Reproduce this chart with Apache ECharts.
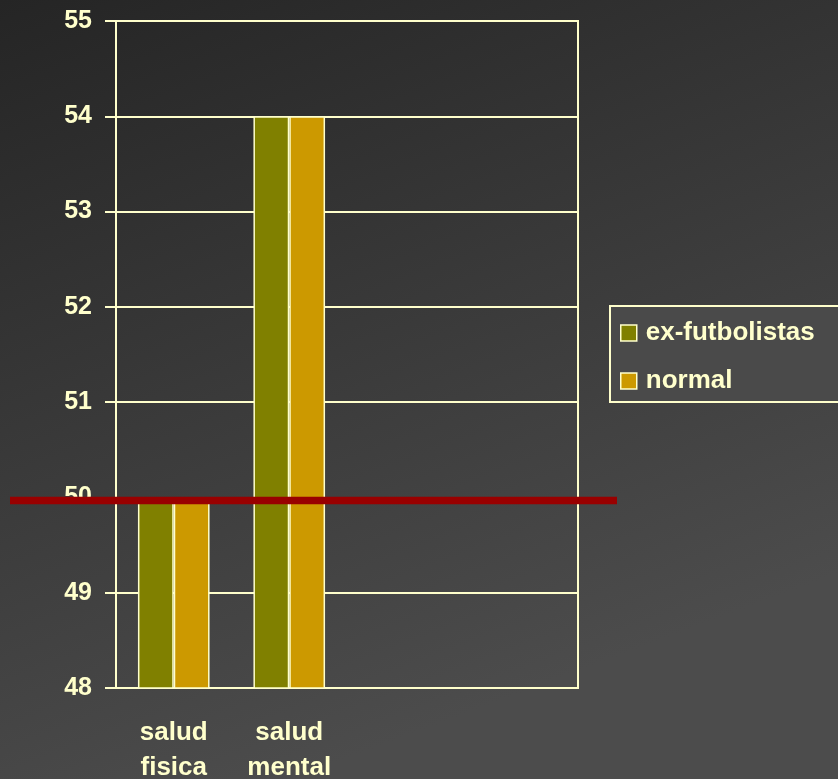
<!DOCTYPE html>
<html>
<head>
<meta charset="utf-8">
<script src="https://cdn.jsdelivr.net/npm/echarts@6/dist/echarts.min.js"></script>
<style>
  html, body { margin: 0; padding: 0; }
  #chart { width: 838px; height: 779px; }
</style>
</head>
<body>
<div id="chart"></div>
<script>
// Health scores: former footballers vs. general population
const categories = ['salud\nfisica', 'salud\nmental', '', ''];
const exFutbolistas = [50, 54, null, null];
const normal = [50, 54, null, null];
const referenceValue = 50;
const yTicks = { min: 48, max: 55, interval: 1 };

const cream = '#ffffcc';
const font = '"Liberation Sans", Arial, sans-serif';

const chart = echarts.init(document.getElementById('chart'), null, { renderer: 'canvas' });

chart.setOption({
  backgroundColor: {
    type: 'linear', x: 0, y: 0, x2: 0.35, y2: 1,
    colorStops: [
      { offset: 0, color: '#252525' },
      { offset: 1, color: '#4c4c4c' }
    ]
  },
  animation: false,
  textStyle: { fontFamily: font },
  grid: {
    left: 116, top: 21, right: 260, bottom: 91,
    containLabel: false,
    outerBoundsMode: 'none',
    show: true, borderColor: cream, borderWidth: 2,
    backgroundColor: 'transparent'
  },
  legend: {
    orient: 'vertical',
    left: 610, top: 306,
    padding: [14, 90, 8, 10],
    itemGap: 22,
    itemWidth: 16, itemHeight: 16,
    icon: 'rect',
    backgroundColor: '#4a4a4a',
    borderColor: cream, borderWidth: 2,
    textStyle: {
      color: cream, fontSize: 26, fontWeight: 'bold', fontFamily: font,
      padding: [0, 0, 0, 4]
    },
    itemStyle: { borderColor: cream, borderWidth: 1.5 },
    data: ['ex-futbolistas', 'normal']
  },
  xAxis: {
    type: 'category',
    data: categories,
    axisLine: { show: true, lineStyle: { color: cream, width: 2 } },
    axisTick: { show: false },
    axisLabel: {
      color: cream, fontSize: 26, fontWeight: 'bold', fontFamily: font,
      margin: 27, lineHeight: 35, interval: 0
    },
    splitLine: { show: false }
  },
  yAxis: {
    type: 'value',
    min: yTicks.min, max: yTicks.max, interval: yTicks.interval,
    axisLine: { show: true, lineStyle: { color: cream, width: 2 } },
    axisTick: { show: true, length: 11, inside: false, lineStyle: { color: cream, width: 2 } },
    axisLabel: {
      color: cream, fontSize: 25, fontWeight: 'bold', fontFamily: font, margin: 24
    },
    splitLine: { show: true, lineStyle: { color: cream, width: 2 } }
  },
  series: [
    {
      name: 'ex-futbolistas', type: 'bar',
      data: exFutbolistas,
      barGap: '0%', barCategoryGap: '38%',
      itemStyle: { color: '#808000', borderColor: cream, borderWidth: 1.5 }
    },
    {
      name: 'normal', type: 'bar',
      data: normal,
      barGap: '0%', barCategoryGap: '38%',
      itemStyle: { color: '#cc9900', borderColor: cream, borderWidth: 1.5 }
    }
  ]
});

// Reference line at the 50 mark, running past both sides of the plot
const refY = chart.convertToPixel({ yAxisIndex: 0 }, referenceValue) + 3;
chart.setOption({
  graphic: [{
    type: 'line',
    z: 100,
    shape: { x1: 10, y1: refY, x2: 617, y2: refY },
    style: { stroke: '#990000', lineWidth: 7.5 }
  }]
});
</script>
</body>
</html>
